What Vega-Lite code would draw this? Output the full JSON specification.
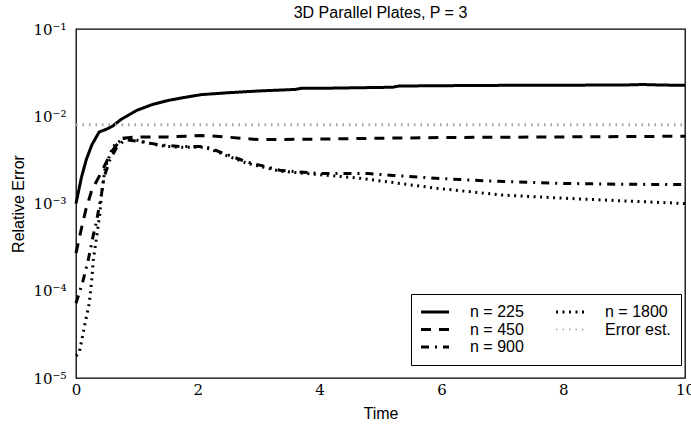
{
  "$schema": "https://vega.github.io/schema/vega-lite/v6.json",
  "width": 609,
  "height": 349,
  "autosize": {"type": "none"},
  "padding": {"left": 76, "top": 29, "right": 6, "bottom": 48},
  "background": "white",
  "title": {"text": "3D Parallel Plates, P = 3", "font": "Liberation Sans", "fontSize": 16, "fontWeight": "normal", "color": "black", "offset": 1, "anchor": "middle"},
  "config": {
    "view": {"stroke": "black", "strokeWidth": 1.3},
    "axis": {"tickColor": "black", "tickWidth": 1, "labelColor": "black", "titleColor": "black", "grid": false, "domain": false}
  },
  "data": {"values": [
    {"t": 0, "err": 0.0010, "series": "n = 225"},
    {"t": 0.09, "err": 0.0020, "series": "n = 225"},
    {"t": 0.17, "err": 0.0032, "series": "n = 225"},
    {"t": 0.26, "err": 0.0047, "series": "n = 225"},
    {"t": 0.38, "err": 0.0066, "series": "n = 225"},
    {"t": 0.5, "err": 0.0071, "series": "n = 225"},
    {"t": 0.6, "err": 0.0077, "series": "n = 225"},
    {"t": 0.75, "err": 0.0093, "series": "n = 225"},
    {"t": 1.0, "err": 0.0117, "series": "n = 225"},
    {"t": 1.25, "err": 0.0136, "series": "n = 225"},
    {"t": 1.5, "err": 0.0151, "series": "n = 225"},
    {"t": 1.75, "err": 0.0163, "series": "n = 225"},
    {"t": 2.06, "err": 0.0177, "series": "n = 225"},
    {"t": 2.5, "err": 0.0186, "series": "n = 225"},
    {"t": 3.0, "err": 0.0195, "series": "n = 225"},
    {"t": 3.6, "err": 0.0203, "series": "n = 225"},
    {"t": 3.7, "err": 0.0209, "series": "n = 225"},
    {"t": 4.2, "err": 0.0210, "series": "n = 225"},
    {"t": 4.8, "err": 0.0213, "series": "n = 225"},
    {"t": 5.2, "err": 0.0215, "series": "n = 225"},
    {"t": 5.3, "err": 0.0222, "series": "n = 225"},
    {"t": 6.0, "err": 0.0224, "series": "n = 225"},
    {"t": 7.0, "err": 0.0226, "series": "n = 225"},
    {"t": 8.0, "err": 0.0227, "series": "n = 225"},
    {"t": 9.0, "err": 0.0228, "series": "n = 225"},
    {"t": 9.3, "err": 0.0231, "series": "n = 225"},
    {"t": 9.6, "err": 0.0228, "series": "n = 225"},
    {"t": 10, "err": 0.0226, "series": "n = 225"},

    {"t": 0, "err": 0.00027, "series": "n = 450"},
    {"t": 0.09, "err": 0.00052, "series": "n = 450"},
    {"t": 0.16, "err": 0.00084, "series": "n = 450"},
    {"t": 0.26, "err": 0.00143, "series": "n = 450"},
    {"t": 0.42, "err": 0.0023, "series": "n = 450"},
    {"t": 0.58, "err": 0.0039, "series": "n = 450"},
    {"t": 0.75, "err": 0.0056, "series": "n = 450"},
    {"t": 1.0, "err": 0.0058, "series": "n = 450"},
    {"t": 1.5, "err": 0.0058, "series": "n = 450"},
    {"t": 2.05, "err": 0.0060, "series": "n = 450"},
    {"t": 2.3, "err": 0.0059, "series": "n = 450"},
    {"t": 3.0, "err": 0.0054, "series": "n = 450"},
    {"t": 3.8, "err": 0.00545, "series": "n = 450"},
    {"t": 5.0, "err": 0.0056, "series": "n = 450"},
    {"t": 6.0, "err": 0.0057, "series": "n = 450"},
    {"t": 8.0, "err": 0.0058, "series": "n = 450"},
    {"t": 10, "err": 0.0059, "series": "n = 450"},

    {"t": 0, "err": 0.000072, "series": "n = 900"},
    {"t": 0.11, "err": 0.000126, "series": "n = 900"},
    {"t": 0.2, "err": 0.000224, "series": "n = 900"},
    {"t": 0.28, "err": 0.00042, "series": "n = 900"},
    {"t": 0.34, "err": 0.00064, "series": "n = 900"},
    {"t": 0.42, "err": 0.0013, "series": "n = 900"},
    {"t": 0.46, "err": 0.0020, "series": "n = 900"},
    {"t": 0.56, "err": 0.0032, "series": "n = 900"},
    {"t": 0.66, "err": 0.0043, "series": "n = 900"},
    {"t": 0.8, "err": 0.0054, "series": "n = 900"},
    {"t": 1.0, "err": 0.0052, "series": "n = 900"},
    {"t": 1.38, "err": 0.0047, "series": "n = 900"},
    {"t": 1.7, "err": 0.0045, "series": "n = 900"},
    {"t": 2.1, "err": 0.0045, "series": "n = 900"},
    {"t": 2.2, "err": 0.0043, "series": "n = 900"},
    {"t": 2.8, "err": 0.0030, "series": "n = 900"},
    {"t": 3.35, "err": 0.0024, "series": "n = 900"},
    {"t": 4.0, "err": 0.0022, "series": "n = 900"},
    {"t": 4.8, "err": 0.0022, "series": "n = 900"},
    {"t": 5.2, "err": 0.0021, "series": "n = 900"},
    {"t": 5.9, "err": 0.00195, "series": "n = 900"},
    {"t": 6.7, "err": 0.00182, "series": "n = 900"},
    {"t": 8.0, "err": 0.0017, "series": "n = 900"},
    {"t": 9.0, "err": 0.00166, "series": "n = 900"},
    {"t": 10, "err": 0.00165, "series": "n = 900"},

    {"t": 0, "err": 0.000018, "series": "n = 1800"},
    {"t": 0.05, "err": 0.0000192, "series": "n = 1800"},
    {"t": 0.094, "err": 0.000027, "series": "n = 1800"},
    {"t": 0.148, "err": 0.000042, "series": "n = 1800"},
    {"t": 0.218, "err": 0.000072, "series": "n = 1800"},
    {"t": 0.258, "err": 0.000132, "series": "n = 1800"},
    {"t": 0.284, "err": 0.000224, "series": "n = 1800"},
    {"t": 0.34, "err": 0.00042, "series": "n = 1800"},
    {"t": 0.394, "err": 0.00078, "series": "n = 1800"},
    {"t": 0.42, "err": 0.0013, "series": "n = 1800"},
    {"t": 0.48, "err": 0.0026, "series": "n = 1800"},
    {"t": 0.61, "err": 0.0045, "series": "n = 1800"},
    {"t": 0.78, "err": 0.0056, "series": "n = 1800"},
    {"t": 1.0, "err": 0.0053, "series": "n = 1800"},
    {"t": 1.38, "err": 0.0046, "series": "n = 1800"},
    {"t": 1.7, "err": 0.0044, "series": "n = 1800"},
    {"t": 2.1, "err": 0.0044, "series": "n = 1800"},
    {"t": 2.2, "err": 0.0042, "series": "n = 1800"},
    {"t": 2.8, "err": 0.0029, "series": "n = 1800"},
    {"t": 3.35, "err": 0.00235, "series": "n = 1800"},
    {"t": 3.8, "err": 0.0022, "series": "n = 1800"},
    {"t": 4.66, "err": 0.00195, "series": "n = 1800"},
    {"t": 5.9, "err": 0.0015, "series": "n = 1800"},
    {"t": 7.0, "err": 0.00125, "series": "n = 1800"},
    {"t": 8.0, "err": 0.00115, "series": "n = 1800"},
    {"t": 9.0, "err": 0.00107, "series": "n = 1800"},
    {"t": 10, "err": 0.0010, "series": "n = 1800"},

    {"t": 0, "err": 0.008, "series": "Error est."},
    {"t": 10, "err": 0.008, "series": "Error est."}
  ]},
  "layer": [
    {
      "mark": {"type": "line", "strokeWidth": 3, "strokeCap": "butt"},
      "encoding": {
        "x": {"field": "t", "type": "quantitative",
          "scale": {"domain": [0, 10], "nice": false, "zero": false},
          "axis": {"orient": "bottom", "values": [0, 2, 4, 6, 8, 10], "tickSize": 0, "labelPadding": 4,
            "labelFont": "DejaVu Serif", "labelFontSize": 15, "labelFlush": false,
            "title": "Time", "titleFont": "Liberation Sans", "titleFontSize": 16, "titleFontWeight": "normal",
            "titleY": 40, "titleBaseline": "alphabetic",
            "encode": {"ticks": {"update": {"y2": {"value": -7}}}}}},
        "y": {"field": "err", "type": "quantitative",
          "scale": {"type": "log", "domain": [0.00001, 0.1], "nice": false},
          "axis": {"orient": "left",
            "values": [1e-5, 2e-5, 3e-5, 4e-5, 5e-5, 6e-5, 7e-5, 8e-5, 9e-5, 1e-4, 2e-4, 3e-4, 4e-4, 5e-4, 6e-4, 7e-4, 8e-4, 9e-4, 1e-3, 2e-3, 3e-3, 4e-3, 5e-3, 6e-3, 7e-3, 8e-3, 9e-3, 0.01, 0.02, 0.03, 0.04, 0.05, 0.06, 0.07, 0.08, 0.09, 0.1],
            "tickSize": 0, "labelPadding": 10, "labelOverlap": false, "labelFlush": false,
            "labelExpr": "abs(datum.value / pow(10, round(log(datum.value) / LN10)) - 1) < 0.001 ? ['10⁰','10⁻¹','10⁻²','10⁻³','10⁻⁴','10⁻⁵'][-round(log(datum.value) / LN10)] : ''",
            "labelFont": "DejaVu Serif", "labelFontSize": 15,
            "title": "Relative Error", "titleFont": "Liberation Sans", "titleFontSize": 16, "titleFontWeight": "normal",
            "titleX": -53, "titleY": 174.5, "titleAngle": -90, "titleAlign": "center", "titleBaseline": "alphabetic",
            "encode": {"ticks": {"update": {"x2": {"signal": "abs(datum.value / pow(10, round(log(datum.value) / LN10)) - 1) < 0.001 ? 8 : 4"}}}}}},
        "color": {"field": "series", "type": "nominal",
          "scale": {"domain": ["n = 225", "n = 450", "n = 900", "n = 1800", "Error est."],
                    "range": ["black", "black", "black", "black", "#a0a0a0"]},
          "legend": {"orient": "none", "legendX": 335, "legendY": 265, "columns": 2, "title": null,
            "symbolType": "stroke", "symbolSize": 784, "clipHeight": 16, "symbolOffset": 6,
            "labelFont": "Liberation Sans", "labelFontSize": 16, "labelColor": "black", "labelOffset": 27,
            "padding": 10, "columnPadding": 32, "rowPadding": 1.5,
            "strokeColor": "black", "fillColor": "white",
            "encode": {"symbols": {"update": {"strokeWidth": {"signal": "datum.value === 'Error est.' ? 1.5 : 3"}}}}}},
        "strokeDash": {"field": "series", "type": "nominal",
          "scale": {"domain": ["n = 225", "n = 450", "n = 900", "n = 1800", "Error est."],
                    "range": [[1, 0], [10, 8], [8, 6, 2, 6], [2, 4.5], [1.5, 5]]}},
        "strokeWidth": {"condition": {"test": "datum.series === 'Error est.'", "value": 1.5}, "value": 3}
      }
    },
    {
      "mark": {"type": "point", "opacity": 0},
      "encoding": {
        "x": {"field": "t", "type": "quantitative",
          "scale": {"domain": [0, 10], "nice": false, "zero": false},
          "axis": {"orient": "top", "values": [0, 2, 4, 6, 8, 10], "labels": false, "tickSize": 0, "title": null,
            "encode": {"ticks": {"update": {"y2": {"value": 7}}}}}},
        "y": {"field": "err", "type": "quantitative",
          "scale": {"type": "log", "domain": [0.00001, 0.1], "nice": false},
          "axis": {"orient": "right",
            "values": [1e-5, 2e-5, 3e-5, 4e-5, 5e-5, 6e-5, 7e-5, 8e-5, 9e-5, 1e-4, 2e-4, 3e-4, 4e-4, 5e-4, 6e-4, 7e-4, 8e-4, 9e-4, 1e-3, 2e-3, 3e-3, 4e-3, 5e-3, 6e-3, 7e-3, 8e-3, 9e-3, 0.01, 0.02, 0.03, 0.04, 0.05, 0.06, 0.07, 0.08, 0.09, 0.1],
            "labels": false, "tickSize": 0, "title": null,
            "encode": {"ticks": {"update": {"x2": {"signal": "abs(datum.value / pow(10, round(log(datum.value) / LN10)) - 1) < 0.001 ? -8 : -4"}}}}}}
      }
    }
  ],
  "resolve": {"axis": {"x": "independent", "y": "independent"}}
}
